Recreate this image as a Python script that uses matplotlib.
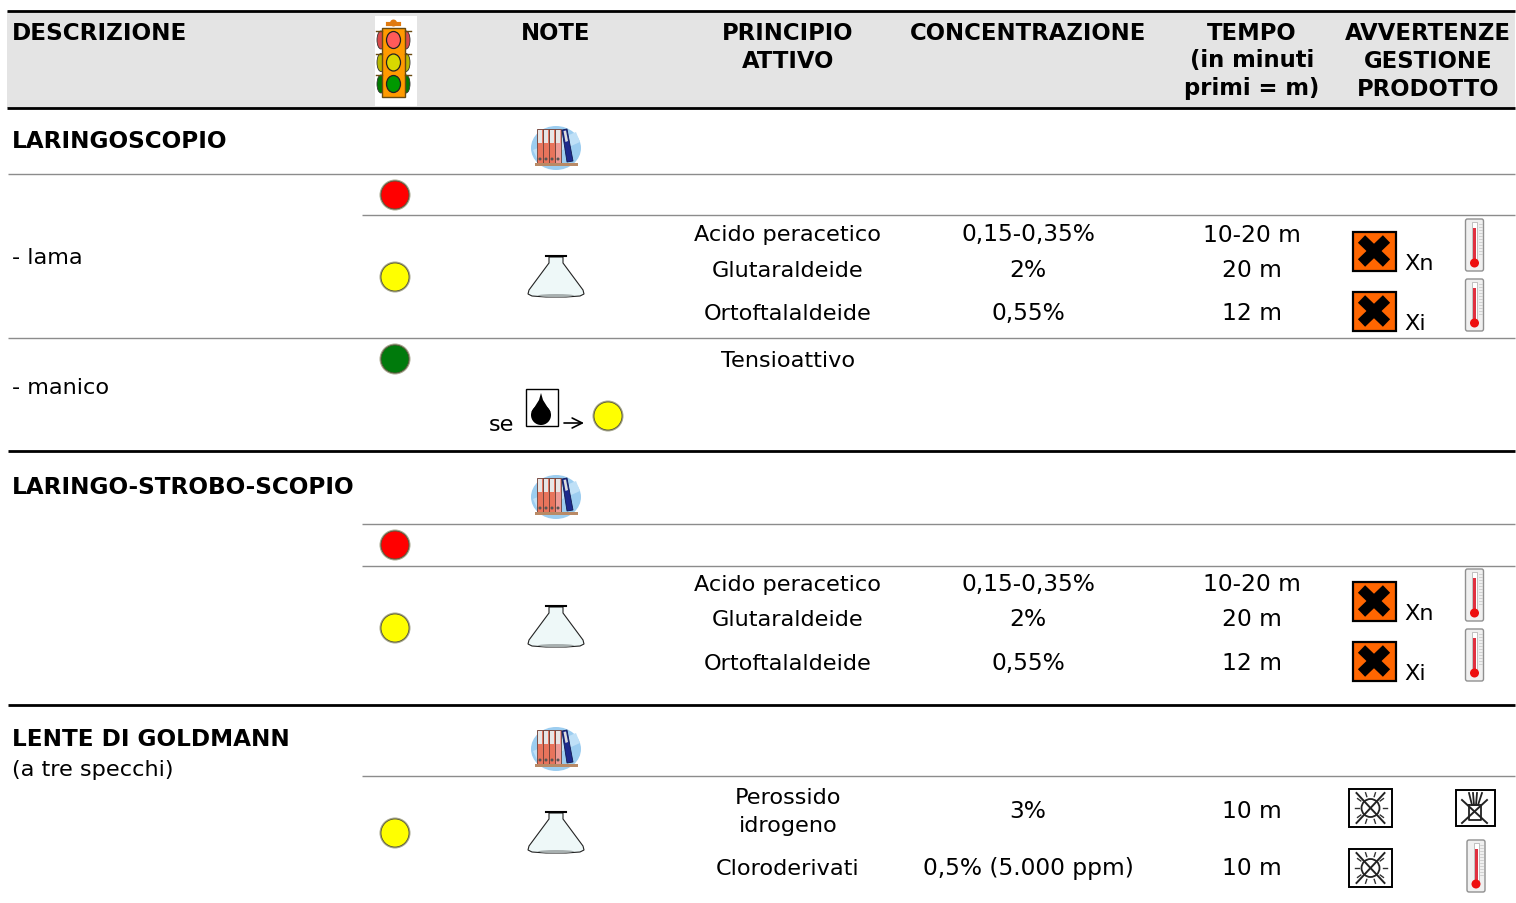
import matplotlib
matplotlib.use("Agg")
import matplotlib.pyplot as plt
import numpy as np
from matplotlib.patches import Circle, Ellipse, Polygon, Rectangle, FancyBboxPatch

W, H = 1516, 904
FS = 16.1
FS_NUM = 16.8
FS_HEAD = 16.4
FS_SECTION = 16.7
LINE_GAP = 28

# text content
headers = ["DESCRIZIONE", "NOTE", "PRINCIPIO\nATTIVO", "CONCENTRAZIONE",
           "TEMPO\n(in minuti\nprimi = m)", "AVVERTENZE\nGESTIONE\nPRODOTTO"]
header_x = [12, 556, 788, 1028, 1252, 1428]
sections = ["LARINGOSCOPIO", "LARINGO-STROBO-SCOPIO", "LENTE DI GOLDMANN"]
section_y = [140, 487, 739]
items = ["- lama", "- manico", "(a tre specchi)"]
item_y = [257, 387, 769]

principles = ["Acido peracetico", "Glutaraldeide", "Ortoftalaldeide", "Tensioattivo",
              "Acido peracetico", "Glutaraldeide", "Ortoftalaldeide",
              "Perossido\nidrogeno", "Cloroderivati"]
concentrations = ["0,15-0,35%", "2%", "0,55%", "",
                  "0,15-0,35%", "2%", "0,55%", "3%", "0,5% (5.000 ppm)"]
times = ["10-20 m", "20 m", "12 m", "", "10-20 m", "20 m", "12 m", "10 m", "10 m"]
row_y = [234, 270, 313, 360, 584, 619, 663, 811, 868]

# rules: y, x start, colour
rules_y = [11, 108, 174, 215, 338, 451, 524, 566, 705, 776]
rules_x = [7, 7, 8, 362, 8, 8, 362, 362, 8, 362]
rules_c = ["black", "black", "#8c8c8c", "#8c8c8c", "#8c8c8c", "black",
           "#8c8c8c", "#8c8c8c", "black", "#8c8c8c"]

# icon placement
dots = [(395, 195, "#ff0000"), (395, 277, "#ffff00"), (395, 359, "#007a0c"),
        (395, 545, "#ff0000"), (395, 628, "#ffff00"), (395, 833, "#ffff00")]
binders = [148, 497, 749]
flasks = [277, 627, 833]
hazards = [(251, "Xn"), (311, "Xi"), (601, "Xn"), (661, "Xi")]
thermos = [(1474.5, 245), (1474.5, 305), (1474.5, 595), (1474.5, 655), (1476, 866)]
suns = [808, 868]


def lines(ax, x, y, t, **kw):
    # multi-line text with a fixed pixel gap
    parts = t.split("\n")
    for i, p in enumerate(parts):
        ax.text(x, y + i * LINE_GAP, p, va="center", **kw)


def dot(ax, x, y, c):
    ax.add_patch(Circle((x, y), 15.5, fc="#a8a890", ec="none", zorder=3))
    ax.add_patch(Circle((x, y), 14, fc=c, ec="#55553a", lw=0.6, zorder=4))


def binder(ax, cx, cy):
    ax.add_patch(Ellipse((cx, cy), 50, 44, fc="#9ccdf0", ec="none"))
    ax.add_patch(Polygon([(cx - 23, cy + 2), (cx + 20, cy - 16), (cx + 24, cy - 6), (cx - 18, cy + 13)],
                         fc="#bfe0f7", ec="none"))
    for i, c in enumerate(["#e8745c", "#e8745c", "#e8745c", "#ee9a94"]):
        x0 = cx - 19 + i * 6
        ax.add_patch(Rectangle((x0, cy - 19), 6, 34, fc=c, ec="#6a4038", lw=0.6))
        ax.add_patch(Rectangle((x0 + 1, cy - 18), 4, 13, fc="#e6e6e6", ec="none"))
        ax.add_patch(Circle((x0 + 3, cy + 11), 1.5, fc="#555555", ec="none"))
    ax.add_patch(Polygon([(cx + 6, cy - 18), (cx + 11, cy - 19), (cx + 17, cy + 13), (cx + 11, cy + 14)],
                         fc="#1d2a8c", ec="#101850", lw=0.6))
    ax.add_patch(Polygon([(cx + 7.5, cy - 17), (cx + 10, cy - 17.5), (cx + 12, cy - 7), (cx + 9.5, cy - 6)],
                         fc="#dddddd", ec="none"))
    ax.add_patch(Rectangle((cx - 21, cy + 15), 43, 3, fc="#b98a66", ec="none"))


def flask(ax, cx, cy):
    pts = [(cx - 7, cy - 20), (cx + 7, cy - 20), (cx + 7, cy - 14), (cx + 27, cy + 13),
           (cx + 28, cy + 17), (cx + 24, cy + 19), (cx + 10, cy + 20), (cx - 10, cy + 20),
           (cx - 24, cy + 19), (cx - 28, cy + 17), (cx - 27, cy + 13), (cx - 7, cy - 14)]
    ax.add_patch(Polygon(pts, fc="#eef8f8", ec="#222222", lw=0.8))
    ax.add_patch(Ellipse((cx, cy + 18.5), 36, 3, fc="#a8b0b0", ec="none"))
    ax.plot([cx - 10, cx + 10], [cy - 21, cy - 21], color="black", lw=1.5)


def hazard(ax, x, cy):
    ax.add_patch(Rectangle((x, cy - 19.5), 43, 39, fc="#ff6600", ec="black", lw=1.6))
    ax.plot([x + 9, x + 34], [cy - 12, cy + 12], color="black", lw=7.5, solid_capstyle="butt")
    ax.plot([x + 34, x + 9], [cy - 12, cy + 12], color="black", lw=7.5, solid_capstyle="butt")


def thermo(ax, cx, cy):
    ax.add_patch(FancyBboxPatch((cx - 9, cy - 26), 18, 52, boxstyle="round,pad=0,rounding_size=2",
                                fc="#f0f0f0", ec="#909090", lw=1))
    ax.add_patch(Rectangle((cx - 2.5, cy - 23), 5, 40, fc="white", ec="#aaaaaa", lw=0.5))
    ax.add_patch(Rectangle((cx - 1.5, cy - 17), 3, 34, fc="#e03040", ec="none"))
    ax.add_patch(Circle((cx, cy + 18), 4.5, fc="#ee1010", ec="none"))
    for yy in np.arange(cy - 21, cy + 12, 3):
        ax.plot([cx + 4, cx + 7], [yy, yy], color="#c4c4c4", lw=0.5)


def sun_box(ax, x, cy):
    ax.add_patch(Rectangle((x, cy - 19), 43, 38, fc="white", ec="black", lw=1.4))
    cx = x + 21.5
    ax.add_patch(Circle((cx, cy), 9, fc="none", ec="#222222", lw=1.3))
    for a in np.arange(0, 2 * np.pi, np.pi / 5):
        ax.plot([cx + 12 * np.cos(a), cx + 16 * np.cos(a)],
                [cy + 12 * np.sin(a), cy + 16 * np.sin(a)], color="#333333", lw=1)
    ax.plot([cx - 14, cx + 14], [cy - 15, cy + 15], color="#222222", lw=1.4)
    ax.plot([cx + 14, cx - 14], [cy - 15, cy + 15], color="#222222", lw=1.4)


def plant_box(ax, x, cy):
    ax.add_patch(Rectangle((x, cy - 18), 39, 36, fc="white", ec="black", lw=1.4))
    cx = x + 19.5
    ax.plot([cx - 6, cx - 6, cx + 6, cx + 6, cx - 6], [cy - 3, cy + 12, cy + 12, cy - 3, cy - 3],
            color="#222222", lw=1.3)
    for dx, tip in zip([-3, -1, 1, 3], [-6, -2, 2, 7]):
        ax.plot([cx + dx, cx + tip], [cy - 3, cy - 15], color="#222222", lw=1.3)
    ax.plot([cx - 13, cx + 12], [cy - 8, cy + 15], color="#222222", lw=1.4)
    ax.plot([cx + 12, cx - 13], [cy - 8, cy + 15], color="#222222", lw=1.4)


def traffic_light(ax):
    ax.add_patch(Rectangle((375, 16), 42, 90, fc="white", ec="none"))
    ax.add_patch(Circle((393.5, 23), 3.5, fc="#e07a10", ec="none"))
    ax.plot([388, 399], [24, 24], color="#e07a10", lw=3)
    for cy, side in [(40, "#d84a4a"), (62.5, "#b8b800"), (84, "#007a00")]:
        ax.add_patch(Ellipse((381, cy), 8, 18, fc=side, ec="#333333", lw=0.6))
        ax.add_patch(Ellipse((406, cy), 8, 18, fc=side, ec="#333333", lw=0.6))
        ax.plot([376, 382], [cy - 9, cy - 9], color="#6a4a10", lw=1)
        ax.plot([405, 411], [cy - 9, cy - 9], color="#6a4a10", lw=1)
    ax.add_patch(Rectangle((382, 28), 23, 69, fc="#ff9a00", ec="#6a4a10", lw=1))
    for cy, c in [(40, "#ff5a5a"), (62.5, "#d8d800"), (84, "#009900")]:
        ax.add_patch(Ellipse((393.5, cy), 14, 17, fc=c, ec="#222222", lw=0.9))


def drop_box(ax):
    ax.add_patch(Rectangle((525.5, 389), 32, 37, fc="white", ec="black", lw=1))
    ax.add_patch(Circle((541, 415), 10, fc="black", ec="none"))
    ax.add_patch(Polygon([(541, 393), (543, 400), (550.5, 412), (531.5, 412), (539, 400)],
                         fc="black", ec="none"))


fig = plt.figure(figsize=(W / 100, H / 100), dpi=100)
ax = fig.add_axes([0, 0, 1, 1])
ax.set_xlim(0, W)
ax.set_ylim(H - 1, -1)
ax.axis("off")

ax.add_patch(Rectangle((7, 11), 1508, 97, fc="#e4e4e4", ec="none"))
for y, x0, c in zip(rules_y, rules_x, rules_c):
    ax.plot([x0, 1515], [y, y], color=c, lw=2 if c == "black" else 1, solid_capstyle="butt")

# header text
ax.text(header_x[0], 32, headers[0], fontsize=FS_SECTION, fontweight="bold", va="center")
for x, t in zip(header_x[1:], headers[1:]):
    lines(ax, x, 32, t, fontsize=FS_HEAD, fontweight="bold", ha="center")

for t, y in zip(sections, section_y):
    ax.text(12, y, t, fontsize=FS_SECTION, fontweight="bold", va="center")
for t, y in zip(items, item_y):
    ax.text(12, y, t, fontsize=FS, va="center")

for p, c, tm, y in zip(principles, concentrations, times, row_y):
    y0 = y - LINE_GAP / 2 if "\n" in p else y
    lines(ax, 788, y0, p, fontsize=FS, ha="center")
    ax.text(1028, y, c, fontsize=FS_NUM, ha="center", va="center")
    ax.text(1252, y, tm, fontsize=FS_NUM, ha="center", va="center")

traffic_light(ax)
for x, y, c in dots:
    dot(ax, x, y, c)
for y in binders:
    binder(ax, 556, y)
for y in flasks:
    flask(ax, 556, y)
for y, lab in hazards:
    hazard(ax, 1352.5, y)
    ax.text(1404, y + 12, lab, fontsize=FS, va="center")
for x, y in thermos:
    thermo(ax, x, y)
for y in suns:
    sun_box(ax, 1349, y)
plant_box(ax, 1455.5, 808)

ax.text(489, 424, "se", fontsize=FS, va="center")
drop_box(ax)
ax.annotate("", xy=(584, 423), xytext=(564, 423),
            arrowprops=dict(arrowstyle="->", color="black", lw=1.2, mutation_scale=18,
                            shrinkA=0, shrinkB=0))
dot(ax, 608, 416, "#ffff00")

fig.savefig("out.png", dpi=100)
